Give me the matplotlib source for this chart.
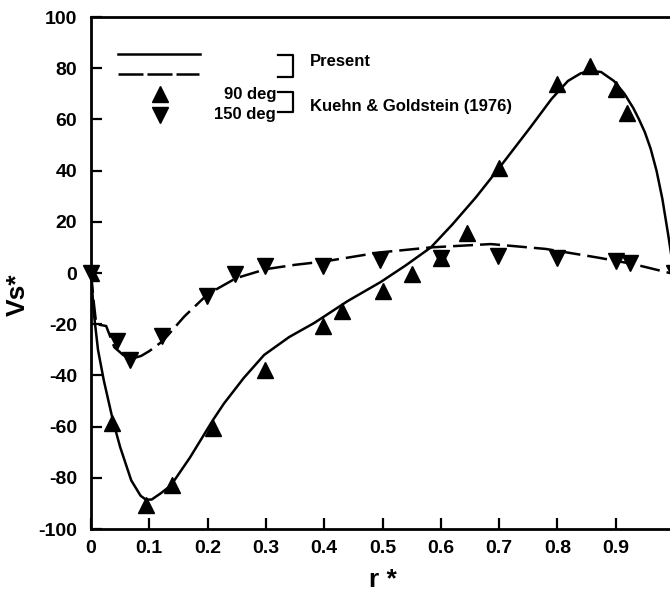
import matplotlib
matplotlib.use("Agg")
import matplotlib.pyplot as plt
from matplotlib.lines import Line2D

plt.rcParams['font.family'] = ['Liberation Sans', 'DejaVu Sans']
plt.rcParams['font.weight'] = 'bold'

# Present (computed) – 90 deg, solid
r_present_90 = [0.0, 0.005, 0.012, 0.022, 0.038, 0.05, 0.069, 0.085, 0.094, 0.104,
                0.12, 0.137, 0.17, 0.209, 0.228, 0.262, 0.297, 0.34, 0.383, 0.44,
                0.497, 0.54, 0.583, 0.62, 0.66, 0.70, 0.754, 0.79, 0.818, 0.84,
                0.857, 0.875, 0.897, 0.915, 0.93, 0.94, 0.95, 0.96, 0.97, 0.98,
                0.99, 1.0]
vs_present_90 = [0.0, -16, -30, -42, -58, -68, -81, -87, -88.5, -88.5,
                 -86, -83, -72, -57.5, -51, -41, -32, -25, -19.5, -11,
                 -3.5, 3, 10, 19, 29.5, 41, 57, 68, 75, 78,
                 79, 78.5, 75, 70, 64.5, 60, 55, 48.5, 40, 29,
                 15, 0.0]

# Present (computed) – 150 deg, dashed
r_present_150 = [0.0, 0.005, 0.009, 0.026, 0.04, 0.055, 0.069, 0.086, 0.1, 0.123,
                 0.16, 0.2, 0.249, 0.3, 0.35, 0.4, 0.494, 0.583, 0.686, 0.78,
                 0.87, 0.93, 1.0]
vs_present_150 = [0.0, -12, -20, -20.7, -29, -32, -33.5, -32.4, -30.5, -26.6,
                  -17, -8.3, -2, 1.5, 3.2, 4.5, 8, 10, 11.3, 9.4,
                  6, 3.5, -0.4]

# Kuehn & Goldstein (1976) – 90 deg
r_kg_90 = [0.0, 0.036, 0.095, 0.139, 0.21, 0.298, 0.398, 0.43, 0.50, 0.55,
           0.60, 0.645, 0.70, 0.80, 0.856, 0.90, 0.92]
vs_kg_90 = [0.0, -58.6, -90.5, -83, -60.5, -38, -20.7, -14.8, -7, -0.4,
            6, 15.6, 41, 74, 81, 72, 62.5]

# Kuehn & Goldstein (1976) – 150 deg
r_kg_150 = [0.0, 0.045, 0.067, 0.122, 0.199, 0.247, 0.298, 0.398, 0.496, 0.60,
            0.698, 0.80, 0.90, 0.925, 1.0]
vs_kg_150 = [0.0, -26.6, -34, -24.6, -9, -0.4, 2.7, 2.7, 5, 6,
             6.6, 6, 4.7, 4, 0.0]

x_ticks = [0.1, 0.2, 0.3, 0.4, 0.5, 0.6, 0.7, 0.8, 0.9, 1.0]
x_tick_labels = ['0.1', '0.2', '0.3', '0.4', '0.5', '0.6', '0.7', '0.8', '0.9', '1']
y_ticks = [-100, -80, -60, -40, -20, 0, 20, 40, 60, 80, 100]

W, H = 670, 597
fig = plt.figure(figsize=(W / 100, H / 100), dpi=100)
ax_l, ax_r, ax_t, ax_b = 91, 674, 17, 529
ax = fig.add_axes([ax_l / W, (H - ax_b) / H, (ax_r - ax_l) / W, (ax_b - ax_t) / H])

lw = 1.8
ax.plot(r_present_90, vs_present_90, color='black', lw=lw, zorder=3)
ax.plot(r_present_150, vs_present_150, color='black', lw=lw,
        linestyle=(0, (8, 2.8)), zorder=3)
ax.plot(r_kg_90, vs_kg_90, linestyle='none', marker='^', ms=11.5,
        color='black', zorder=4, clip_on=True)
ax.plot(r_kg_150, vs_kg_150, linestyle='none', marker='v', ms=11.5,
        color='black', zorder=4, clip_on=False)

ax.set_xlim(0, 1.0)
ax.set_ylim(-100, 100)
ax.set_xticks([0] + x_ticks)
ax.set_xticklabels(['0'] + x_tick_labels)
ax.set_yticks(y_ticks)
ax.set_yticklabels([str(v) for v in y_ticks])

for s in ax.spines.values():
    s.set_linewidth(2.0)
ax.tick_params(direction='in', length=8, width=1.6, top=False, right=False,
               labelsize=14)
ax.tick_params(axis='x', pad=8)
ax.tick_params(axis='y', pad=10)

ax.set_xlabel('r *', fontsize=19, fontweight='bold', labelpad=8)
ax.set_ylabel('Vs*', fontsize=19, fontweight='bold')
ax.yaxis.set_label_coords((30 - ax_l) / (ax_r - ax_l), (ax_b - 295) / (ax_b - ax_t))

# custom legend drawn in pixel-derived axes fractions
def ax_pt(px, py):
    return ((px - ax_l) / (ax_r - ax_l), (ax_b - py) / (ax_b - ax_t))

def seg(points, **kw):
    xs, ys = zip(*[ax_pt(px, py) for px, py in points])
    ax.add_line(Line2D(xs, ys, transform=ax.transAxes, color='black',
                       clip_on=False, **kw))

seg([(118, 54), (200, 54)], lw=lw)
seg([(118, 74), (199, 74)], lw=lw, linestyle=(0, (10, 1.6)))
ux, uy = ax_pt(160, 93.5)
ax.plot([ux], [uy], marker='^', ms=11.5, color='black', transform=ax.transAxes)
dx, dy = ax_pt(160, 115)
ax.plot([dx], [dy], marker='v', ms=11.5, color='black', transform=ax.transAxes)

seg([(278, 55), (293, 55), (293, 77), (278, 77)], lw=1.6)
seg([(278, 92), (293, 92), (293, 112), (278, 112)], lw=1.6)

tx, ty = ax_pt(276, 95)
ax.text(tx, ty, '90 deg', transform=ax.transAxes, ha='right', va='center',
        fontsize=12, fontweight='bold')
tx, ty = ax_pt(276, 115)
ax.text(tx, ty, '150 deg', transform=ax.transAxes, ha='right', va='center',
        fontsize=12, fontweight='bold')
tx, ty = ax_pt(310, 61)
ax.text(tx, ty, 'Present', transform=ax.transAxes, ha='left', va='center',
        fontsize=12, fontweight='bold')
tx, ty = ax_pt(310, 107)
ax.text(tx, ty, 'Kuehn & Goldstein (1976)', transform=ax.transAxes, ha='left',
        va='center', fontsize=12, fontweight='bold')

fig.savefig('out.png', dpi=100)
